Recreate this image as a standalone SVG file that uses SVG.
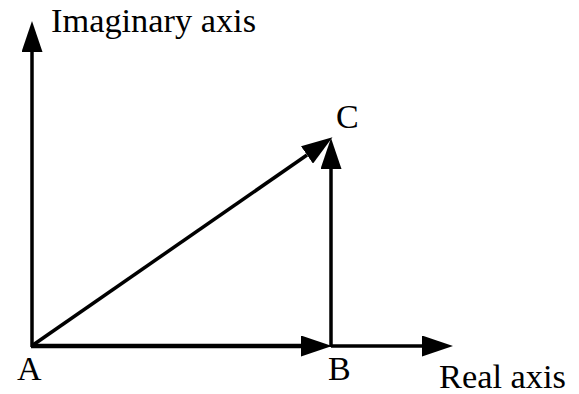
<svg xmlns="http://www.w3.org/2000/svg" width="579" height="394" viewBox="0 0 579 394">
  <style>
    .ln { stroke: #000; stroke-width: 3.5; fill: none; marker-end: url(#ah); }
    .thick { stroke-width: 4.5; }
    text { font-family: 'Liberation Serif', 'Times New Roman', serif; font-size: 34px; fill: #000; }
  </style>
  <defs>
    <marker id="ah" markerUnits="userSpaceOnUse" markerWidth="31" markerHeight="21" refX="0" refY="10.5" orient="auto" viewBox="0 0 31 21">
      <path d="M0,0 L31,10.5 L0,21 Z" fill="#000"/>
    </marker>
  </defs>
  <rect width="579" height="394" fill="#fff"/>
  <g id="connectors">
    <line id="imag-axis" class="ln" x1="32" y1="347" x2="32" y2="52"/>
    <line id="real-axis" class="ln" x1="331" y1="346" x2="422" y2="346"/>
    <line id="AB" class="ln thick" x1="31" y1="346" x2="301" y2="346"/>
    <line id="BC" class="ln" x1="331" y1="347" x2="331" y2="169"/>
    <line id="AC" class="ln" x1="33" y1="345" x2="307" y2="155"/>
  </g>
  <g id="label-imag"><text x="51" y="32" textLength="205" lengthAdjust="spacingAndGlyphs">Imaginary axis</text></g>
  <g id="node-C"><text x="336" y="128">C</text></g>
  <g id="node-A"><text x="17" y="380">A</text></g>
  <g id="node-B"><text x="328" y="380">B</text></g>
  <g id="label-real"><text x="439" y="388" textLength="127" lengthAdjust="spacingAndGlyphs">Real axis</text></g>
</svg>
